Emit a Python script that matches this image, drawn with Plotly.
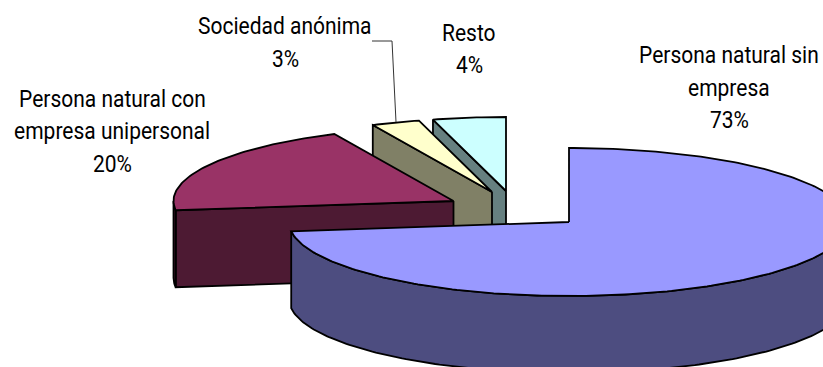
import math
import plotly.graph_objects as go

categories = ["Persona natural sin empresa", "Persona natural con empresa unipersonal", "Sociedad anónima", "Resto"]
values = [73, 20, 2.8, 4.2]
shown_percent = ["73%", "20%", "3%", "4%"]

top_colors = ["#9999FF", "#993366", "#FFFFCC", "#CCFFFF"]
side_colors = ["#4D4D80", "#4D1A33", "#808066", "#668080"]
apex = [(569, 222), (453.5, 201), (492, 192), (506, 191)]
RX, RY, DEPTH = 280, 74, 77
FONT = "Roboto, Liberation Sans, sans-serif"

label_lines = [
    (["Persona natural sin", "empresa", "73%"], 729, [55, 88, 120]),
    (["Persona natural con", "empresa unipersonal", "20%"], 112, [99, 131, 164]),
    (["Sociedad anónima", "3%"], 285, [26, 59]),
    (["Resto", "4%"], 469, [33, 65]),
]

fig = go.Figure()


def pt(c, deg, dz=0):
    a = math.radians(deg)
    return c[0] + RX * math.sin(a), c[1] - RY * math.cos(a) + dz


def poly(points, fill):
    xs = [p[0] for p in points] + [points[0][0]]
    ys = [p[1] for p in points] + [points[0][1]]
    fig.add_trace(go.Scatter(x=xs, y=ys, mode="lines", fill="toself", fillcolor=fill,
                             line=dict(color="black", width=1.8), hoverinfo="skip", showlegend=False))


total = sum(values)
spans = []
acc = 0.0
for v in values:
    spans.append((acc, acc + v / total * 360))
    acc += v / total * 360


def draw(i):
    s, e = spans[i]
    c = apex[i]
    if s >= 180:
        poly([c, pt(c, s), pt(c, s, DEPTH), (c[0], c[1] + DEPTH)], side_colors[i])
    lo, hi = max(s, 90), min(e, 270)
    if hi > lo:
        n = max(2, int(hi - lo))
        arc = [lo + (hi - lo) * k / n for k in range(n + 1)]
        poly([pt(c, a) for a in arc] + [pt(c, a, DEPTH) for a in reversed(arc)], side_colors[i])
    n = max(2, int(e - s))
    arc = [s + (e - s) * k / n for k in range(n + 1)]
    poly([c] + [pt(c, a) for a in arc], top_colors[i])


for i in (3, 2, 1, 0):
    draw(i)

# leader line of "Sociedad anónima"
fig.add_trace(go.Scatter(x=[372, 392, 396], y=[41, 41, 122], mode="lines",
                         line=dict(color="#333333", width=1), hoverinfo="skip", showlegend=False))

for lines, x, ys in label_lines:
    for t, y in zip(lines, ys):
        fig.add_annotation(x=x, y=y, text=t, showarrow=False, xanchor="center", yanchor="middle",
                           font=dict(family=FONT, size=21, color="black"))

fig.update_layout(width=823, height=367, margin=dict(l=0, r=0, t=0, b=0),
                  paper_bgcolor="white", plot_bgcolor="white",
                  xaxis=dict(range=[0, 823], visible=False, fixedrange=True),
                  yaxis=dict(range=[367, 0], visible=False, fixedrange=True))
css = ("document.body.style.margin='0';"
       "var st=document.createElement('style');"
       "st.textContent='.annotation-text{transform-box:fill-box;transform-origin:center;transform:scaleY(1.15);}';"
       "document.head.appendChild(st);")
fig.write_html("out.html", config={"displayModeBar": False}, post_script=css)
